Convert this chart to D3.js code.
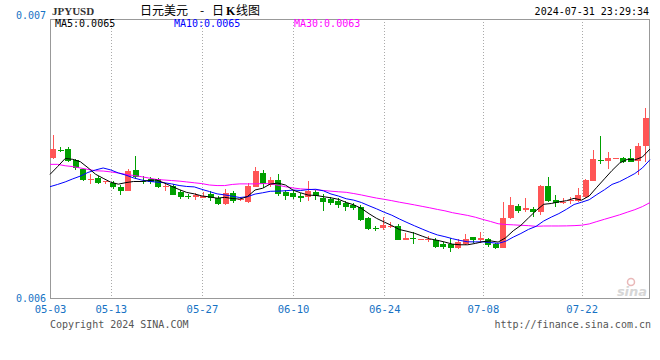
<!DOCTYPE html>
<html><head><meta charset="utf-8">
<script src="https://cdn.jsdelivr.net/npm/d3@7"></script>
<style>body{margin:0;background:#fff}svg{display:block}</style>
</head><body><svg id="chart" width="660" height="360"></svg>
<script>
const dates = ["05-03","05-04","05-06","05-07","05-08","05-09","05-10","05-11","05-13","05-14",
"05-15","05-16","05-17","05-18","05-20","05-21","05-22","05-23","05-24","05-25",
"05-27","05-28","05-29","05-30","05-31","06-01","06-03","06-04","06-05","06-06",
"06-07","06-08","06-10","06-11","06-12","06-13","06-14","06-15","06-17","06-18",
"06-19","06-20","06-21","06-22","06-24","06-25","06-26","06-27","06-28","06-29",
"06-30","07-01","07-02","07-03","07-04","07-05","07-06","07-08","07-09","07-10",
"07-11","07-12","07-13","07-14","07-15","07-16","07-17","07-18","07-19","07-20",
"07-22","07-23","07-24","07-25","07-26","07-27","07-28","07-29","07-30","07-31"];

const openV = [0.006503,0.006531,0.006534,0.006495,0.006461,0.006425,0.006430,0.006414,0.006412,0.006399,
0.006385,0.006459,0.006421,0.006425,0.006425,0.006400,0.006403,0.006379,0.006364,0.006361,
0.006360,0.006371,0.006358,0.006337,0.006375,0.006351,0.006345,0.006399,0.006449,0.006405,
0.006423,0.006380,0.006378,0.006367,0.006362,0.006381,0.006360,0.006355,0.006349,0.006341,
0.006333,0.006327,0.006285,0.006251,0.006252,0.006257,0.006259,0.006210,0.006215,0.006210,
0.006208,0.006208,0.006194,0.006192,0.006178,0.006192,0.006218,0.006208,0.006210,0.006192,
0.006180,0.006286,0.006331,0.006315,0.006319,0.006309,0.006401,0.006351,0.006342,0.006348,
0.006348,0.006363,0.006420,0.006496,0.006492,0.006500,0.006503,0.006503,0.006491,0.006542];

const highV = [0.006584,0.006541,0.006542,0.006498,0.006464,0.006446,0.006436,0.006421,0.006421,0.006405,
0.006461,0.006509,0.006436,0.006432,0.006431,0.006409,0.006408,0.006387,0.006373,0.006375,
0.006381,0.006382,0.006366,0.006391,0.006384,0.006358,0.006411,0.006471,0.006459,0.006435,
0.006444,0.006387,0.006385,0.006376,0.006419,0.006387,0.006373,0.006362,0.006358,0.006348,
0.006339,0.006333,0.006291,0.006259,0.006289,0.006273,0.006264,0.006234,0.006238,0.006213,
0.006222,0.006216,0.006202,0.006214,0.006210,0.006229,0.006220,0.006235,0.006216,0.006198,
0.006345,0.006363,0.006337,0.006357,0.006325,0.006405,0.006433,0.006369,0.006357,0.006361,
0.006393,0.006427,0.006530,0.006581,0.006524,0.006503,0.006506,0.006534,0.006554,0.006680];

const lowV = [0.006498,0.006522,0.006489,0.006457,0.006419,0.006408,0.006409,0.006410,0.006390,0.006369,
0.006382,0.006428,0.006408,0.006409,0.006393,0.006382,0.006368,0.006354,0.006354,0.006351,
0.006357,0.006348,0.006333,0.006333,0.006341,0.006348,0.006342,0.006397,0.006394,0.006397,
0.006366,0.006353,0.006355,0.006345,0.006349,0.006351,0.006312,0.006333,0.006324,0.006312,
0.006315,0.006277,0.006244,0.006240,0.006244,0.006250,0.006208,0.006208,0.006192,0.006208,
0.006202,0.006180,0.006175,0.006166,0.006176,0.006189,0.006196,0.006198,0.006184,0.006176,
0.006178,0.006283,0.006304,0.006307,0.006289,0.006297,0.006345,0.006327,0.006338,0.006337,
0.006343,0.006360,0.006419,0.006479,0.006461,0.006499,0.006485,0.006486,0.006441,0.006489];

const closeV = [0.006534,0.006530,0.006492,0.006466,0.006420,0.006427,0.006413,0.006419,0.006396,0.006385,
0.006455,0.006433,0.006419,0.006414,0.006395,0.006403,0.006372,0.006360,0.006362,0.006369,
0.006366,0.006355,0.006337,0.006377,0.006348,0.006355,0.006401,0.006455,0.006408,0.006423,
0.006372,0.006367,0.006363,0.006360,0.006382,0.006366,0.006345,0.006342,0.006333,0.006327,
0.006322,0.006282,0.006247,0.006249,0.006262,0.006259,0.006210,0.006216,0.006213,0.006211,
0.006210,0.006184,0.006184,0.006176,0.006200,0.006210,0.006208,0.006216,0.006190,0.006178,
0.006288,0.006333,0.006313,0.006323,0.006309,0.006401,0.006348,0.006342,0.006344,0.006351,
0.006369,0.006423,0.006498,0.006494,0.006501,0.006502,0.006489,0.006489,0.006546,0.006644];

// moving-average values before enough closes are in the window
const ma5Head = [0.006443,0.006471,0.006500,0.006497];
const ma10Head = [0.006399,0.006407,0.006416,0.006427,0.006437,0.006450,0.006459,0.006466,0.006459];
const ma30Head = [0.006479,0.006479,0.006474,0.006471,0.006466,0.006461,0.006456,0.006455,0.006452,0.006448,
0.006443,0.006439,0.006435,0.006430,0.006425,0.006423,0.006421,0.006419,0.006416,0.006413,
0.006410,0.006405,0.006403,0.006403,0.006407,0.006409,0.006409,0.006409,0.006410];

const yTicks = [0.006, 0.007];
const xTickLabels = ["05-03","05-13","05-27","06-10","06-24","07-08","07-22"];

function movingAvg(n, head){
  return closeV.map((c,i)=> i < n-1 ? head[i] : d3.mean(closeV.slice(i-n+1, i+1)));
}
const ma5 = movingAvg(5, ma5Head), ma10 = movingAvg(10, ma10Head), ma30 = movingAvg(30, ma30Head);

const svg = d3.select("#chart");
const L = 50, R = 650, T = 19, B = 298;
const mono = "'DejaVu Sans Mono', monospace";
const blueTxt = "#1672c4";

const xBand = d3.scaleBand().domain(dates).range([L, R]).paddingInner(0.2).paddingOuter(0.1).align(0);
const xPt = d3.scalePoint().domain(dates).range([L, R]);
const y = d3.scaleLinear().domain([0.006, 0.007]).range([B, T]);

// gridlines
svg.append("g").attr("transform", `translate(0,${T})`)
  .call(d3.axisBottom(xPt).tickValues(xTickLabels.slice(1)).tickSize(B - T).tickFormat(""))
  .call(g => g.select(".domain").remove())
  .call(g => g.selectAll("line").attr("stroke", "#aaa").attr("stroke-dasharray", "1,2")
     .attr("shape-rendering", "crispEdges"));

// frame
svg.append("rect").attr("x", L + 0.5).attr("y", T + 0.5).attr("width", R - L - 1).attr("height", B - T)
  .attr("fill", "none").attr("stroke", "#999");

// candles
const idx = d3.range(dates.length);
const cg = svg.append("g");
const colorOf = i => closeV[i] > openV[i] ? "#ff5555" : "#00a000";
cg.selectAll("line.wick").data(idx).join("line")
  .attr("x1", i => Math.floor(xBand(dates[i]) + xBand.bandwidth()/2) + 0.5)
  .attr("x2", i => Math.floor(xBand(dates[i]) + xBand.bandwidth()/2) + 0.5)
  .attr("y1", i => y(highV[i])).attr("y2", i => y(lowV[i]))
  .attr("stroke", colorOf).attr("shape-rendering", "crispEdges");
cg.selectAll("rect.body").data(idx).join("rect")
  .attr("x", i => Math.round(xBand(dates[i])))
  .attr("width", Math.round(xBand.bandwidth()))
  .attr("y", i => Math.round(y(Math.max(openV[i], closeV[i]))))
  .attr("height", i => Math.max(1, Math.round(Math.abs(y(openV[i]) - y(closeV[i])))))
  .attr("fill", colorOf).attr("shape-rendering", "crispEdges");

// MA lines
const line = d3.line().x((d,i) => xPt(dates[i])).y(d => y(d));
[[ma30, "#ff00ff"], [ma10, "#0000ff"], [ma5, "#000000"]].forEach(([s, c]) => {
  svg.append("path").attr("d", line(s)).attr("fill", "none").attr("stroke", c).attr("stroke-width", 1);
});

// y labels
svg.append("g").attr("transform", `translate(${L},0)`)
  .call(d3.axisLeft(y).tickValues(yTicks).tickFormat(d3.format(".3f")).tickSize(0).tickPadding(4))
  .call(g => g.select(".domain").remove())
  .call(g => g.selectAll("text").attr("fill", blueTxt).attr("font-family", mono).attr("font-size", 10)
     .attr("dy", d => d === 0.007 ? "-0.05em" : "0.32em"));

// x labels
svg.append("g").attr("transform", `translate(0,${B})`)
  .call(d3.axisBottom(xPt).tickValues(xTickLabels).tickSize(0).tickPadding(8))
  .call(g => g.select(".domain").remove())
  .call(g => g.selectAll("text").attr("fill", blueTxt).attr("font-family", mono).attr("font-size", 10.5));

// header
svg.append("text").attr("x", 52).attr("y", 15).attr("font-family", "'Liberation Serif', serif")
  .attr("font-size", 11).attr("font-weight", "bold").attr("fill", "#333").text("JPYUSD");
const title = svg.append("text").attr("y", 15).attr("font-family", "'Noto Sans CJK SC', sans-serif")
  .attr("font-size", 12).attr("fill", "#000");
title.append("tspan").attr("x", 140).text("日元美元");
title.append("tspan").attr("x", 200).text("-");
title.append("tspan").attr("x", 212).text("日");
title.append("tspan").attr("x", 226).attr("font-family", "'Liberation Serif', serif").attr("font-weight", "bold").text("K");
title.append("tspan").attr("x", 236).text("线图");
svg.append("text").attr("x", 649).attr("y", 15).attr("text-anchor", "end").attr("font-family", mono)
  .attr("font-size", 10).attr("fill", "#000").text("2024-07-31 23:29:34");

// legend
const fmt = d3.format(".4f");
[["MA5", ma5, "#000", 55], ["MA10", ma10, "#0000ff", 174], ["MA30", ma30, "#ff00ff", 294]].forEach(([n, s, c, x]) => {
  svg.append("text").attr("x", x).attr("y", 27).attr("font-family", mono).attr("font-size", 10)
    .attr("fill", c).text(`${n}:${fmt(s[s.length-1])}`);
});

// footer
svg.append("text").attr("x", 50).attr("y", 328).attr("font-family", mono).attr("font-size", 10)
  .attr("fill", "#555").text("Copyright 2024 SINA.COM");
svg.append("text").attr("x", 651).attr("y", 328).attr("text-anchor", "end").attr("font-family", mono)
  .attr("font-size", 10).attr("fill", "#555").text("http://finance.sina.com.cn");

// watermark
svg.append("circle").attr("cx", 631).attr("cy", 282).attr("r", 3.5).attr("fill", "none").attr("stroke", "#e9b8b8").attr("stroke-width", 1.5);
svg.append("text").attr("x", 632).attr("y", 296).attr("text-anchor", "middle").attr("font-family", "'DejaVu Sans', sans-serif")
  .attr("font-size", 13).attr("font-weight", "bold").attr("font-style", "italic").attr("fill", "#d6d6d6").text("sina");
</script></body></html>
